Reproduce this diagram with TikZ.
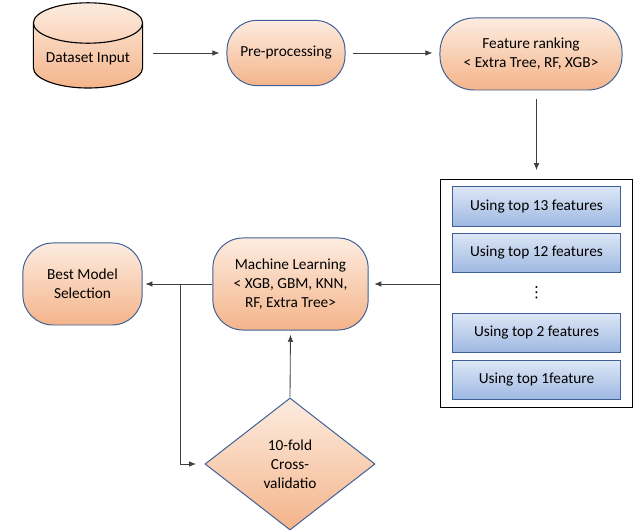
\documentclass[tikz,border=0pt]{standalone}
\usepackage{fontspec}
\setmainfont{Carlito}
\newfontfamily\symfont{DejaVu Sans}
\usetikzlibrary{arrows.meta, positioning, fit, shapes.geometric}
\usetikzlibrary{calc}

\definecolor{peachtop}{RGB}{253,236,224}
\definecolor{peachbot}{RGB}{244,180,138}
\definecolor{bluetop}{RGB}{221,231,246}
\definecolor{bluebot}{RGB}{158,184,226}
\definecolor{edgeblue}{RGB}{62,96,150}

\begin{document}
\begin{tikzpicture}[
  x=0.025cm, y=0.025cm,
  every node/.style={font=\fontsize{10.9}{13.6}\selectfont, align=center, inner sep=2pt},
  store/.style={cylinder, shape border rotate=90, aspect=0.45, draw=black, line width=0.8pt, top color=peachtop, bottom color=peachbot, minimum width=2.73cm, minimum height=2.13cm},
  proc/.style={draw=edgeblue, line width=0.7pt, rounded corners=0.75cm, top color=peachtop, bottom color=peachbot},
  featbox/.style={draw=edgeblue, line width=0.7pt, top color=bluetop, bottom color=bluebot, minimum width=4.18cm, minimum height=0.98cm},
  check/.style={diamond, draw=edgeblue, line width=0.7pt, top color=peachtop, bottom color=peachbot, minimum width=4.25cm, minimum height=3.3cm, inner sep=0pt},
  arrow/.style={-{Latex[length=5pt, width=4pt]}, draw=black!75, line width=0.6pt}
]
\useasboundingbox (0,0) rectangle (636,531);

% top row
\node[store] (data) at (88,472) {Dataset Input};
\node[proc, minimum width=2.95cm, minimum height=1.63cm] (pre) at (286,478) {Pre-processing};
\node[proc, minimum width=4.55cm, minimum height=1.8cm, rounded corners=0.85cm] (feat) at (531,477) {Feature ranking\\ < Extra Tree, RF, XGB>};

% feature subsets
\node[featbox] (u13) at (536.5,324.5) {Using top 13 features};
\node[featbox, below=0.15cm of u13] (u12) {Using top 12 features};
\node[featbox, below=1cm of u12] (u2) {Using top 2 features};
\node[featbox, below=0.17cm of u2] (u1) {Using top 1feature};
\node (dots) at ($(u12.south)!0.5!(u2.north)$) {\symfont ⋮};
\node[draw=black, line width=0.8pt, inner xsep=0.3cm, inner ysep=0.18cm, fit=(u13)(u1)] (frame) {};

% models
\node[proc, minimum width=3.88cm, minimum height=2.3cm] (ml) at (290.5,247) {Machine Learning\\ < XGB, GBM, KNN,\\ RF, Extra Tree>};
\node[proc, minimum width=2.98cm, minimum height=2.05cm] (best) at (82.5,247) {Best Model\\ Selection};
\node[check] (cv) at (290,67) {10-fold\\ Cross-\\ validatio};
\coordinate (jn) at (180,247);

% arrows
\draw[arrow, shorten <=7pt, shorten >=5pt] (data.east |- pre.east) -- (pre.west);
\draw[arrow, shorten <=5pt, shorten >=5pt] (pre.east) -- (pre.east -| feat.west);
\draw[arrow, shorten <=6pt, shorten >=6pt] (feat.south -| frame.north) -- (frame.north);
\draw[arrow, shorten >=4pt] (frame.west |- ml.east) -- (ml.east);
\draw[arrow, shorten >=2pt] (ml.west) -- (best.east);
\draw[arrow, shorten >=6pt] (jn) |- (cv.west);
\draw[arrow, shorten >=3pt] (cv.north) -- (ml.south);

\end{tikzpicture}
\end{document}
